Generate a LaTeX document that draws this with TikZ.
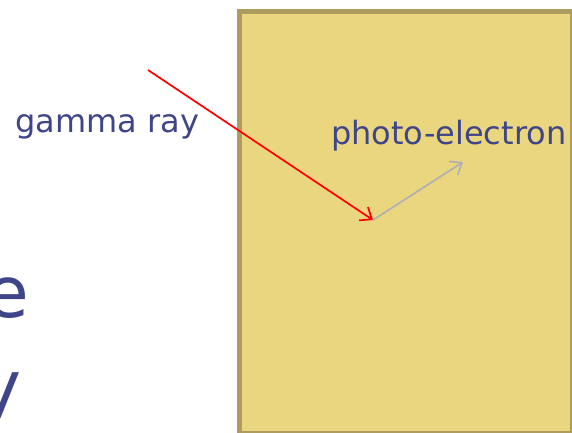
\documentclass[tikz,border=0pt]{standalone}
\usepackage{fontspec}
\setmainfont{DejaVu Sans}
\usetikzlibrary{arrows.meta}
\definecolor{txt}{HTML}{3F4589}
\definecolor{boxfill}{HTML}{EAD67F}
\definecolor{boxline}{HTML}{AD9C5E}
\definecolor{elec}{HTML}{B0B0B0}
\tikzset{
  lbl/.style={text=txt, font=\fontsize{32}{38}\selectfont, inner sep=0pt},
  big/.style={text=txt, font=\fontsize{71}{80}\selectfont, inner sep=0pt, anchor=base east},
  ray/.style={draw=red, line width=1.7pt, -{Straight Barb[length=10pt,width=16pt,line width=1.7pt]}},
  eray/.style={draw=elec, line width=1.7pt, -{Straight Barb[length=10pt,width=16pt,line width=1.7pt]}}
}
\begin{document}
\begin{tikzpicture}[x=1pt,y=-1pt]
\useasboundingbox (0,0) rectangle (572,433);
\clip (0,0) rectangle (572,433);
\fill[white] (0,0) rectangle (572,433);
\node[draw=boxline, fill=boxfill, line width=4.5pt, minimum width=332.5pt, minimum height=421pt, anchor=north west, inner sep=0pt] (box) at (237,9.5) {};
\node[lbl, anchor=base west] (gamma) at (15,132) {gamma ray};
\node[lbl, anchor=base west] (pe) at (331,144) {photo-electron};
\node[big] (e) at (29,317) {e};
\node[big] (y) at (22,411) {y};
\coordinate (src) at (148,70);
\coordinate (hit) at (373,220);
\coordinate (eend) at (463,162);
\draw[ray] (src) -- (hit);
\draw[eray] (hit) -- (eend);
\end{tikzpicture}
\end{document}
